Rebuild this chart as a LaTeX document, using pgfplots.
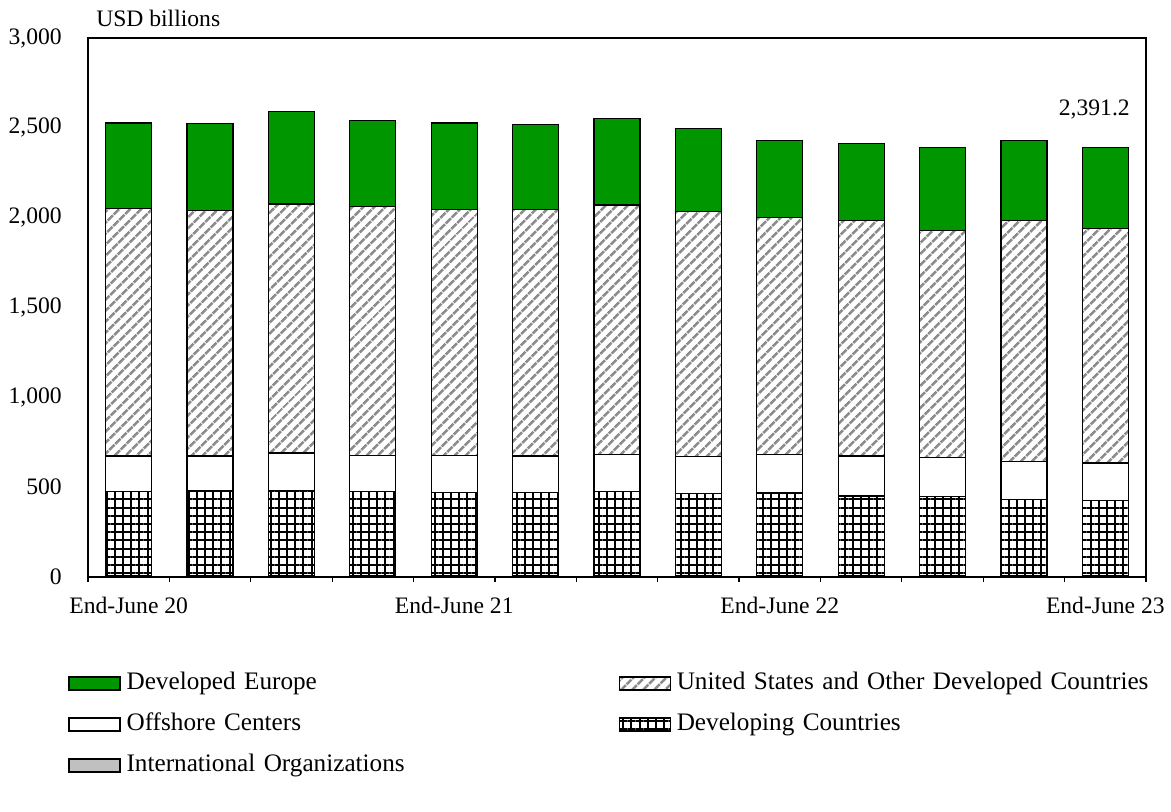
\documentclass[border=0pt]{standalone}
\usepackage{fontspec}
\setmainfont{Liberation Serif}
\usepackage{pgfplots}
\pgfplotsset{compat=1.18}
\usetikzlibrary{patterns.meta}
\definecolor{eugreen}{RGB}{0,150,0}
\definecolor{iogray}{RGB}{192,192,192}
\definecolor{hatchgray}{RGB}{140,140,140}
\begin{document}
\fontsize{11.8pt}{14pt}\selectfont
\begin{tikzpicture}
\begin{axis}[
  scale only axis, width=529pt, height=269.5pt,
  clip=false,
  ybar stacked, bar width=23pt,
  xmin=-0.5, xmax=12.5, ymin=0, ymax=3000,
  axis line style={line width=0.6pt},
  ytick={0,500,1000,1500,2000,2500,3000},
  yticklabels={0,500,{1,000},{1,500},{2,000},{2,500},{3,000}},
  ytick style={draw=none},
  yticklabel style={xshift=-9pt},
  xtick={0,4,8,12},
  xticklabels={End-June 20,End-June 21,End-June 22,End-June 23},
  minor xtick={-0.5,0.5,1.5,2.5,3.5,4.5,5.5,6.5,7.5,8.5,9.5,10.5,11.5,12.5},
  major tick length=0pt, minor tick length=2.5pt,
  tick align=outside, tick pos=left,
  minor tick style={line width=0.6pt, black},
  xticklabel style={yshift=-6pt},
  legend columns=2,
  reverse legend,
  legend style={draw=none, fill=none, inner sep=0pt,
    font=\fontsize{12.6pt}{15pt}\selectfont,
    at={(axis description cs:0,0)}, anchor=north west,
    xshift=-10pt, yshift=-46pt,
    row sep=6.5pt, column sep=0pt,
    nodes={inner xsep=3pt, inner ysep=1.5pt, text height=8.5pt, text depth=2.5pt, anchor=west, text width=243pt, align=left}},
  legend image code/.code={\draw[#1, line width=0.6pt] (0pt,-3.25pt) rectangle (25.5pt,3.25pt);},
]
% International Organizations
\addplot[fill=iogray, draw=black, line width=0.6pt] coordinates {
(0,6) (1,6) (2,6) (3,6) (4,6) (5,6) (6,6) (7,6) (8,6) (9,6) (10,6) (11,6) (12,6)};
% Developing Countries
\addplot[draw=black, line width=0.6pt, pattern={Hatch[distance=4.1pt, line width=1.05pt]}, pattern color=black] coordinates {
(0,472) (1,473) (2,477) (3,470) (4,466) (5,464) (6,468) (7,459) (8,462) (9,445) (10,440) (11,425) (12,420)};
% Offshore Centers
\addplot[fill=white, draw=black, line width=0.6pt] coordinates {
(0,196) (1,195) (2,207) (3,202) (4,206) (5,204) (6,206) (7,204) (8,216) (9,223) (10,220) (11,214) (12,209)};
% United States and Other Developed Countries
\addplot[draw=black, line width=0.6pt, pattern={Lines[angle=45, distance=4pt, line width=1.4pt]}, pattern color=hatchgray] coordinates {
(0,1376) (1,1364) (2,1386) (3,1384) (4,1366) (5,1372) (6,1390) (7,1366) (8,1317) (9,1310) (10,1263) (11,1339) (12,1303)};
% Developed Europe
\addplot[fill=eugreen, draw=black, line width=0.6pt] coordinates {
(0,477) (1,484) (2,513) (3,480) (4,483) (5,473) (6,480) (7,460) (8,429) (9,430) (10,462) (11,446) (12,453.2)};
\legend{International Organizations, Developing Countries, Offshore Centers, United States and Other Developed Countries, Developed Europe}
\node[anchor=base, xshift=-5.5pt, yshift=16pt] at (axis cs:12,2391.2) {2,391.2};
\node[anchor=base west, xshift=0pt, yshift=5.8pt] at (rel axis cs:0,1) {USD billions};
\end{axis}
\pgfresetboundingbox
\path[use as bounding box] (-44pt,-117pt) rectangle (541.5pt,288.5pt);
\end{tikzpicture}
\end{document}
